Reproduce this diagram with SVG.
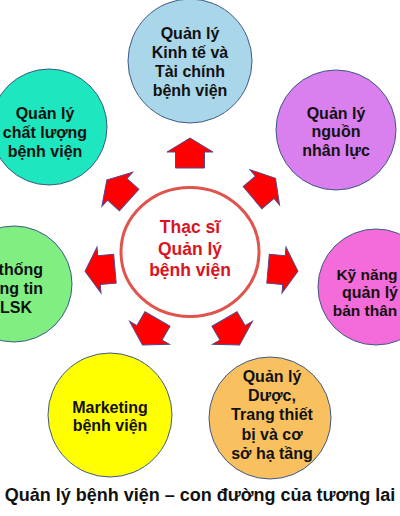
<svg xmlns="http://www.w3.org/2000/svg" width="400" height="516" viewBox="0 0 400 516">
<style>
.bg{fill:#ffffff}
.node{stroke:#3d5a86;stroke-width:1}
.t{font-family:"Liberation Sans",Arial,sans-serif;font-weight:bold;font-size:16px;fill:#111111;text-anchor:middle}
.ct{font-family:"Liberation Sans",Arial,sans-serif;font-weight:bold;font-size:17.5px;fill:#d9141e;text-anchor:middle}
.title{font-family:"Liberation Sans",Arial,sans-serif;font-weight:bold;font-size:18px;fill:#111111;text-anchor:middle}
.arrow{fill:#ff0000;stroke:#56468a;stroke-width:1;stroke-linejoin:miter}
</style>
<defs>
<path id="blk" d="M0,-15 L23,-1 L14.5,-1 L14.5,15 L-14.5,15 L-14.5,-1 L-23,-1 Z"/>
</defs>
<rect class="bg" x="0" y="0" width="400" height="516"/>

<g id="connectors">
<use href="#blk" class="arrow" transform="translate(190,153)"/>
<use href="#blk" class="arrow" transform="translate(118,190) rotate(-48)"/>
<use href="#blk" class="arrow" transform="translate(264,188) rotate(50)"/>
<use href="#blk" class="arrow" transform="translate(100,270) rotate(-95)"/>
<use href="#blk" class="arrow" transform="translate(283,270) rotate(95)"/>
<use href="#blk" class="arrow" transform="translate(150,332) rotate(-150)"/>
<use href="#blk" class="arrow" transform="translate(232,332) rotate(150)"/>
</g>

<g id="center">
<ellipse cx="190" cy="252" rx="69" ry="64.5" fill="#ffffff" stroke="#e0544e" stroke-width="3"/>
<text class="ct" x="190" y="233">Thạc sĩ</text>
<text class="ct" x="190" y="255">Quản lý</text>
<text class="ct" x="190" y="276">bệnh viện</text>
</g>

<g id="n-taichinh">
<circle class="node" cx="190" cy="61" r="62" fill="#a9d6e8"/>
<text class="t" x="190" y="39">Quản lý</text>
<text class="t" x="190" y="58">Kinh tế và</text>
<text class="t" x="190" y="77">Tài chính</text>
<text class="t" x="190" y="96">bệnh viện</text>
</g>

<g id="n-chatluong">
<circle class="node" cx="49" cy="127" r="58" fill="#1ee6be"/>
<text class="t" x="45" y="119">Quản lý</text>
<text class="t" x="45" y="138">chất lượng</text>
<text class="t" x="45" y="157">bệnh viện</text>
</g>

<g id="n-nhanluc">
<circle class="node" cx="336" cy="130" r="60" fill="#d97fee"/>
<text class="t" x="336" y="119">Quản lý</text>
<text class="t" x="336" y="137">nguồn</text>
<text class="t" x="336" y="156">nhân lực</text>
</g>

<g id="n-hethong">
<circle class="node" cx="14" cy="284" r="58" fill="#80ee80"/>
<text class="t" x="43" y="275" style="text-anchor:end">thống</text>
<text class="t" x="43" y="294" style="text-anchor:end">ng tin</text>
<text class="t" x="32" y="313" style="text-anchor:end">LSK</text>
</g>

<g id="n-kynang">
<circle class="node" cx="376" cy="287" r="58" fill="#f46cd9"/>
<text class="t" x="367" y="280" style="font-size:15.5px">Kỹ năng</text>
<text class="t" x="370" y="298">quản lý</text>
<text class="t" x="365" y="316" style="font-size:15.5px">bản thân</text>
</g>

<g id="n-marketing">
<circle class="node" cx="110" cy="415" r="62" fill="#ffff00"/>
<text class="t" x="110" y="413">Marketing</text>
<text class="t" x="110" y="431">bệnh viện</text>
</g>

<g id="n-duoc">
<circle class="node" cx="270" cy="418" r="61" fill="#f9c05f"/>
<text class="t" x="272" y="382">Quản lý</text>
<text class="t" x="272" y="401">Dược,</text>
<text class="t" x="272" y="420">Trang thiết</text>
<text class="t" x="272" y="440">bị và cơ</text>
<text class="t" x="272" y="459">sở hạ tầng</text>
</g>

<text class="title" x="200" y="501">Quản lý bệnh viện – con đường của tương lai</text>
</svg>
